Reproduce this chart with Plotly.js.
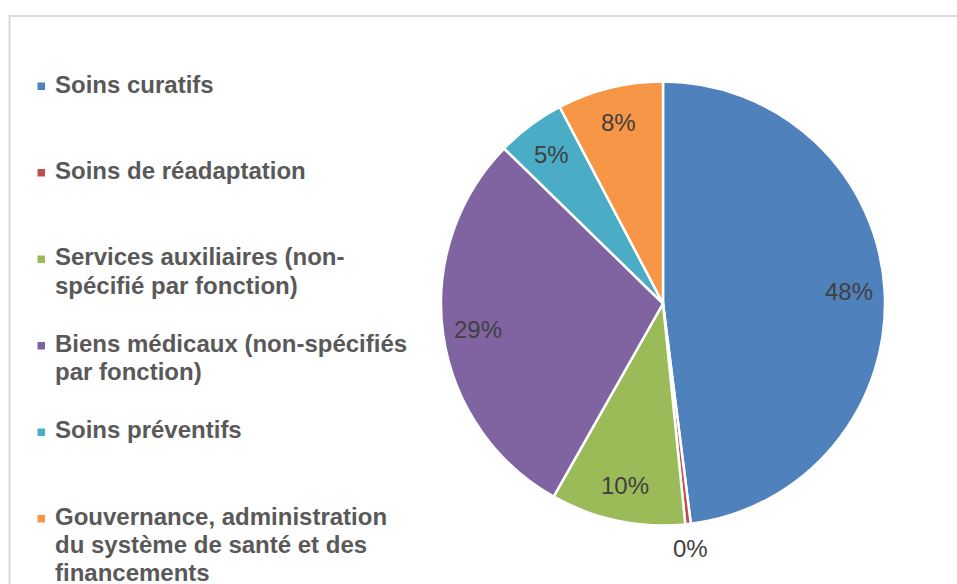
<!DOCTYPE html>
<html><head><meta charset="utf-8">
<script src="https://cdn.plot.ly/plotly-3.0.1.min.js"></script>
<style>html,body{margin:0;padding:0;background:#fff}</style>
</head><body><div id="chart" style="width:957px;height:584px"></div>
<script>
// ---- data ----
const categories = ["Soins curatifs", "Soins de réadaptation", "Services auxiliaires (non-spécifié par fonction)", "Biens médicaux (non-spécifiés par fonction)", "Soins préventifs", "Gouvernance, administration du système de santé et des financements"];
const legendLines = [["Soins curatifs"], ["Soins de réadaptation"], ["Services auxiliaires (non-", "spécifié par fonction)"], ["Biens médicaux (non-spécifiés", "par fonction)"], ["Soins préventifs"], ["Gouvernance, administration", "du système de santé et des", "financements"]];
const values = [48.0, 0.4, 9.8, 29.1, 5.0, 7.7];
const colors = ["#4F81BD", "#C0504D", "#9BBB59", "#8064A2", "#4BACC6", "#F79646"];

// ---- layout geometry (pixels) ----
const W = 957, H = 584;
const CX = 663, CY = 303.5, R = 222;
const px = x => x / W;
const py = y => 1 - y / H;

const total = values.reduce((a, b) => a + b, 0);
const pctText = values.map(v => Math.round(v / total * 100) + "%");

const annotations = [];
const shapes = [];

// slice labels positioned at mid-angle of each slice
let cum = 0;
values.forEach((v, i) => {
  const mid = (cum + v / 2) / total * 2 * Math.PI;
  cum += v;
  const outside = v / total < 0.01;
  const f = outside ? 1.11 : 0.84;
  annotations.push({
    xref: "paper", yref: "paper",
    x: px(CX + f * R * Math.sin(mid)), y: py(CY - f * R * Math.cos(mid)),
    xanchor: "center", yanchor: "middle", showarrow: false,
    text: pctText[i],
    font: {family: "Liberation Sans, Arial, sans-serif", size: 24, color: "#404040"}
  });
});

// legend (Excel style: equal slots)
const legTop = 84, slot = 86.5, lineH = 28;
legendLines.forEach((lines, i) => {
  const y0 = legTop + slot * i;
  shapes.push({type: "rect", xref: "paper", yref: "paper",
    x0: px(37.5), x1: px(45), y0: py(y0 - 1.5), y1: py(y0 + 6),
    fillcolor: colors[i], line: {width: 0}});
  lines.forEach((ln, j) => {
    annotations.push({
      xref: "paper", yref: "paper", x: px(53), y: py(y0 + j * lineH),
      xanchor: "left", yanchor: "middle", showarrow: false, text: "<b>" + ln + "</b>",
      font: {family: "Liberation Sans, Arial, sans-serif", size: 24, color: "#595959"}
    });
  });
});

// chart area border
shapes.push({type: "rect", xref: "paper", yref: "paper", layer: "below",
  x0: px(9.5), x1: px(W + 20), y0: py(H + 20), y1: py(16),
  line: {color: "#D9D9D9", width: 2}, fillcolor: "rgba(0,0,0,0)"});

const trace = {
  type: "pie", labels: categories, values: values, sort: false,
  direction: "clockwise", rotation: 0, textinfo: "none", hoverinfo: "label+percent",
  marker: {colors: colors, line: {color: "#FFFFFF", width: 2.5}},
  domain: {x: [px(CX - R), px(CX + R)], y: [py(CY + R), py(CY - R)]},
  showlegend: false
};

const layout = {
  width: W, height: H, margin: {l: 0, r: 0, t: 0, b: 0},
  paper_bgcolor: "#FFFFFF", showlegend: false,
  annotations: annotations, shapes: shapes
};
Plotly.newPlot("chart", [trace], layout, {displayModeBar: false, staticPlot: true});
</script></body></html>
